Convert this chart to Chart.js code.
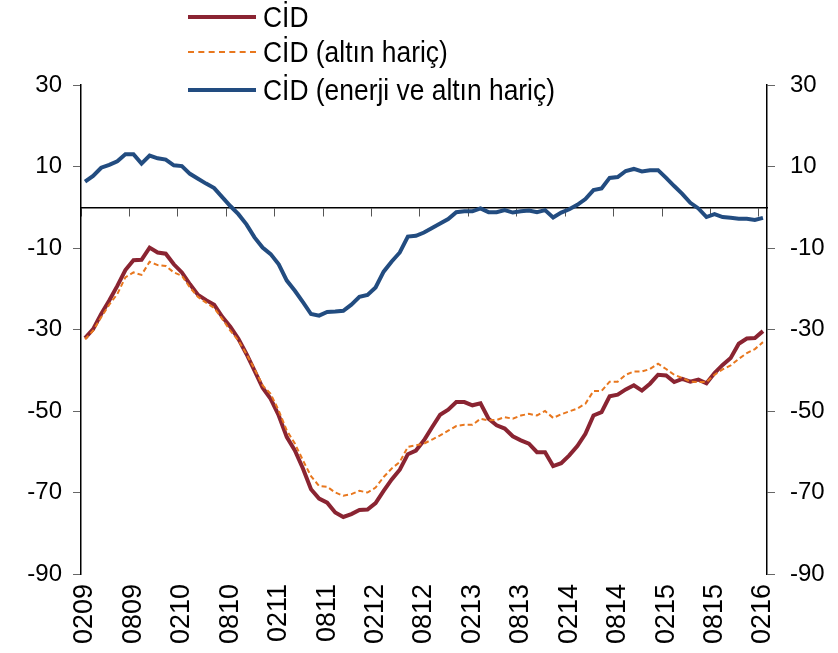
<!DOCTYPE html>
<html>
<head>
<meta charset="utf-8">
<script src="https://cdn.jsdelivr.net/npm/chart.js@4.4.1/dist/chart.umd.min.js"></script>
<style>
  html, body { margin: 0; padding: 0; background: #fff; }
  #wrap { position: relative; width: 838px; height: 653px; }
  #legend { position: absolute; left: 188px; top: 0; font-family: 'Liberation Sans', Arial, sans-serif; font-size: 30px; color: #000; }
  .row { position: absolute; left: 0; height: 36px; display: flex; align-items: center; white-space: nowrap; }
  .swatch { width: 68px; height: 0; margin-right: 7px; }
  .row span { display: inline-block; transform: scaleX(0.88); transform-origin: left center; }
</style>
</head>
<body>
<div id="wrap">
  <canvas id="myChart" width="838" height="653"></canvas>
  <div id="legend"></div>
</div>
<script>
// months 02/2009 .. 02/2016, label format MMYY
var startYear = 2009, startMonth = 2, monthCount = 85;
var labels = [];
for (var k = 0; k < monthCount; k++) {
    var m = (startMonth - 1 + k) % 12 + 1;
    var y = startYear + Math.floor((startMonth - 1 + k) / 12);
    labels.push(('0' + m).slice(-2) + ('0' + (y % 100)).slice(-2));
}

var seriesNames = ['CİD', 'CİD (altın hariç)', 'CİD (enerji ve altın hariç)'];

var cid = [
    -32.1, -29.9, -26.2, -22.9, -19.3, -15.4, -13.0, -12.9, -9.9, -11.1,
    -11.4, -14.0, -16.0, -18.9, -21.5, -22.8, -23.9, -26.9, -29.3, -32.3,
    -36.0, -40.1, -44.3, -47.0, -51.1, -56.4, -59.7, -64.1, -69.2, -71.5,
    -72.5, -74.9, -76.0, -75.3, -74.3, -74.2, -72.6, -69.6, -66.8, -64.4,
    -60.6, -59.7, -57.2, -54.0, -50.9, -49.7, -47.8, -47.8, -48.6, -48.1,
    -51.9, -53.5, -54.3, -56.2, -57.2, -58.0, -60.1, -60.1, -63.5, -62.8,
    -60.9, -58.6, -55.6, -51.1, -50.3, -46.4, -46.0, -44.7, -43.7, -45.0,
    -43.3, -41.1, -41.3, -42.9, -42.1, -42.8, -42.3, -43.2, -40.7, -38.7,
    -37.0, -33.5, -32.2, -32.1, -30.4
];

var cidAltinHaric = [
    -32.4, -30.3, -27.0, -23.9, -21.3, -17.2, -16.0, -16.6, -13.4, -14.2,
    -14.4, -16.0, -16.8, -19.7, -22.0, -23.4, -24.7, -27.4, -30.3, -32.7,
    -36.0, -39.7, -43.7, -45.8, -49.9, -54.8, -58.0, -62.1, -66.0, -68.4,
    -68.6, -70.0, -70.8, -70.4, -69.6, -70.0, -68.8, -66.2, -64.1, -62.5,
    -58.8, -58.4, -58.0, -57.0, -56.0, -54.8, -53.7, -53.4, -53.4, -51.9,
    -52.3, -52.2, -51.5, -51.9, -51.1, -50.7, -51.1, -50.0, -51.7, -50.8,
    -50.1, -49.4, -48.2, -45.1, -45.1, -42.8, -42.8, -41.1, -40.3, -40.3,
    -39.7, -38.4, -39.7, -41.1, -41.9, -42.8, -42.9, -42.9, -41.1, -39.8,
    -38.8, -37.2, -35.8, -34.8, -33.1
];

var cidEnerjiAltinHaric = [
    6.3, 7.7, 9.7, 10.4, 11.3, 13.0, 13.0, 10.7, 12.7, 12.0,
    11.7, 10.3, 10.1, 8.2, 7.0, 5.8, 4.7, 2.5, 0.3, -1.7,
    -4.2, -7.4, -9.9, -11.5, -14.0, -18.0, -20.5, -23.3, -26.2, -26.6,
    -25.7, -25.6, -25.4, -23.9, -22.0, -21.5, -19.7, -15.8, -13.3, -11.1,
    -7.2, -7.0, -6.2, -5.1, -4.0, -2.9, -1.2, -1.0, -1.0, -0.3,
    -1.2, -1.2, -0.7, -1.3, -1.0, -0.8, -1.2, -0.7, -2.5, -1.3,
    -0.5, 0.6, 2.0, 4.2, 4.6, 7.2, 7.4, 8.9, 9.4, 8.8,
    9.1, 9.1, 7.2, 5.2, 3.3, 1.1, -0.3, -2.4, -1.7, -2.4,
    -2.6, -2.8, -2.8, -3.1, -2.6
];

var yMin = -90, yMax = 30, yStep = 20;
var labelEvery = 6;

var colors = ['#8a2432', '#e8771e', '#224c80'];
var widths = [4, 2, 4];
var dashes = [[], [5, 3], []];

var datasets = [cid, cidAltinHaric, cidEnerjiAltinHaric].map(function (vals, i) {
    return {
        label: seriesNames[i],
        data: vals,
        borderColor: colors[i],
        backgroundColor: colors[i],
        borderWidth: widths[i],
        borderDash: dashes[i],
        pointRadius: 0,
        tension: 0,
        fill: false,
        xAxisID: 'x',
        yAxisID: 'y'
    };
});
// orange dashed line drawn on top
datasets[0].order = 1;
datasets[1].order = 0;
datasets[2].order = 2;

// html legend, one item per row
var legendEl = document.getElementById('legend');
var rowTops = [-1, 34, 72];
seriesNames.forEach(function (name, i) {
    var row = document.createElement('div');
    row.className = 'row';
    row.style.top = rowTops[i] + 'px';
    var sw = document.createElement('div');
    sw.className = 'swatch';
    sw.style.borderTop = widths[i] + 'px ' + (dashes[i].length ? 'dashed ' : 'solid ') + colors[i];
    row.appendChild(sw);
    var t = document.createElement('span');
    t.textContent = name;
    row.appendChild(t);
    legendEl.appendChild(row);
});

function yAxis(pos, w) {
    return {
        type: 'linear',
        position: pos,
        min: yMin,
        max: yMax,
        border: { display: true, color: '#000', width: 1.5 },
        grid: { drawOnChartArea: false, drawTicks: true, tickLength: 8, color: '#666' },
        ticks: { stepSize: yStep, color: '#000', padding: pos === 'left' ? 11 : 15, font: { family: 'Liberation Sans, sans-serif', size: 24 } },
        afterFit: function (scale) { scale.width = w; }
    };
}

var ctx = document.getElementById('myChart').getContext('2d');
var chart = new Chart(ctx, {
    type: 'line',
    data: { labels: labels, datasets: datasets },
    options: {
        responsive: false,
        animation: false,
        layout: { padding: { left: 0, right: 0, top: 85, bottom: 0 } },
        plugins: { legend: { display: false }, tooltip: { enabled: false } },
        scales: {
            x: {
                type: 'category',
                position: { y: 0 },
                offset: true,
                border: { display: true, color: '#000', width: 1.5 },
                grid: {
                    offset: true,
                    drawOnChartArea: false,
                    drawTicks: true,
                    tickLength: 8,
                    color: function (c) { return c.index % labelEvery === 0 ? '#555' : 'rgba(0,0,0,0)'; }
                },
                ticks: { display: false, autoSkip: false }
            },
            x2: {
                type: 'category',
                position: 'bottom',
                offset: true,
                border: { display: false },
                grid: { display: false, drawTicks: false, tickLength: 0 },
                ticks: {
                    autoSkip: false,
                    maxRotation: 90,
                    minRotation: 90,
                    padding: 10,
                    color: '#000',
                    font: { family: 'Liberation Sans, sans-serif', size: 27 },
                    callback: function (v, i) { return i % labelEvery === 0 ? this.getLabelForValue(v) : ''; }
                },
                afterFit: function (scale) { scale.height = 79; }
            },
            y: yAxis('left', 81),
            y2: yAxis('right', 71)
        }
    }
});
</script>
</body>
</html>
